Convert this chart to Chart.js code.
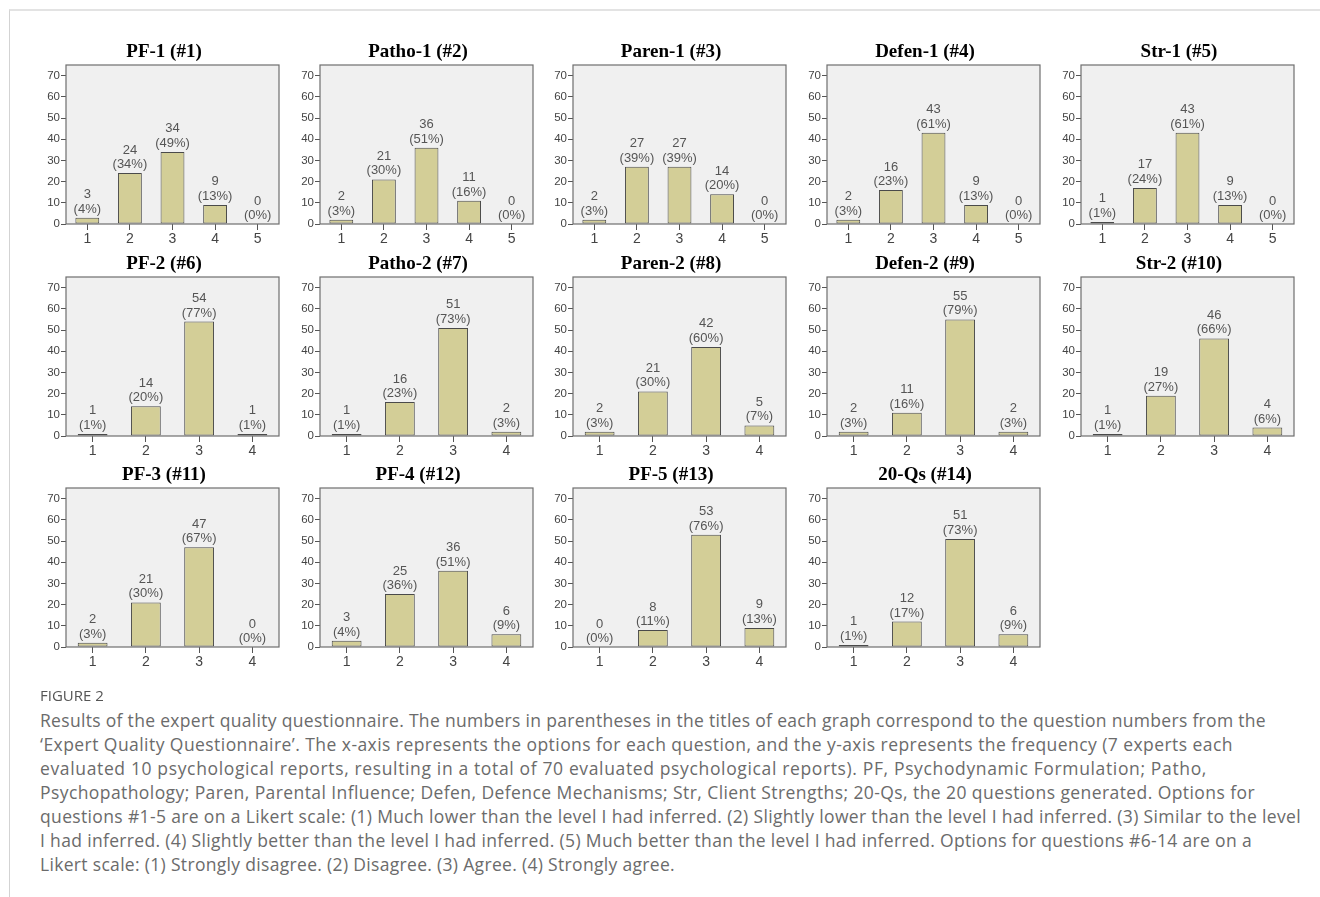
<!DOCTYPE html>
<html>
<head>
<meta charset="utf-8">
<script src="https://cdn.jsdelivr.net/npm/chart.js@4.4.1/dist/chart.umd.min.js"></script>
<style>
  body { margin: 0; background: #fff; width: 1320px; height: 897px; overflow: hidden; position: relative; font-family: "Open Sans", Lato, sans-serif; }
  #frame { position: absolute; left: 9px; top: 9px; right: 0; bottom: 0; border-top: 2px solid #e3e3e3; border-left: 1px solid #d3d3d3; }
  .panel { position: absolute; }
  #fig { position: absolute; left: 40px; top: 685px; font-size: 15px; color: #555; }
  #caption { position: absolute; left: 40px; top: 708px; font-size: 17.5px; line-height: 24px; color: #6b6b6b; white-space: nowrap; }
  #caption span { display: inline-block; }
</style>
</head>
<body>
<div id="frame"></div>
<div id="panels"></div>
<div id="fig">FIGURE 2</div>
<div id="caption"></div>
<script>
// question titles, in reading order
const titles = ['PF-1 (#1)', 'Patho-1 (#2)', 'Paren-1 (#3)', 'Defen-1 (#4)', 'Str-1 (#5)',
                'PF-2 (#6)', 'Patho-2 (#7)', 'Paren-2 (#8)', 'Defen-2 (#9)', 'Str-2 (#10)',
                'PF-3 (#11)', 'PF-4 (#12)', 'PF-5 (#13)', '20-Qs (#14)'];
const options5 = ['1', '2', '3', '4', '5'];
const options4 = ['1', '2', '3', '4'];
const yTicks = [0, 10, 20, 30, 40, 50, 60, 70];

// frequencies (n = 70)
const counts = [
  [3, 24, 34, 9, 0], [2, 21, 36, 11, 0], [2, 27, 27, 14, 0], [2, 16, 43, 9, 0], [1, 17, 43, 9, 0],
  [1, 14, 54, 1], [1, 16, 51, 2], [2, 21, 42, 5], [2, 11, 55, 2], [1, 19, 46, 4],
  [2, 21, 47, 0], [3, 25, 36, 6], [0, 8, 53, 9], [1, 12, 51, 6]
];
// percentages as printed above the bars
const percents = [
  [4, 34, 49, 13, 0], [3, 30, 51, 16, 0], [3, 39, 39, 20, 0], [3, 23, 61, 13, 0], [1, 24, 61, 13, 0],
  [1, 20, 77, 1], [1, 23, 73, 3], [3, 30, 60, 7], [3, 16, 79, 3], [1, 27, 66, 6],
  [3, 30, 67, 0], [4, 36, 51, 9], [0, 11, 76, 13], [1, 17, 73, 9]
];

// caption lines as wrapped in the figure, with where each one ends
const captionLines = [
  'Results of the expert quality questionnaire. The numbers in parentheses in the titles of each graph correspond to the question numbers from the',
  '‘Expert Quality Questionnaire’. The x-axis represents the options for each question, and the y-axis represents the frequency (7 experts each',
  'evaluated 10 psychological reports, resulting in a total of 70 evaluated psychological reports). PF, Psychodynamic Formulation; Patho,',
  'Psychopathology; Paren, Parental Influence; Defen, Defence Mechanisms; Str, Client Strengths; 20-Qs, the 20 questions generated. Options for',
  'questions #1-5 are on a Likert scale: (1) Much lower than the level I had inferred. (2) Slightly lower than the level I had inferred. (3) Similar to the level',
  'I had inferred. (4) Slightly better than the level I had inferred. (5) Much better than the level I had inferred. Options for questions #6-14 are on a',
  'Likert scale: (1) Strongly disagree. (2) Disagree. (3) Agree. (4) Strongly agree.'
];
const captionEnds = [1266, 1233, 1207, 1255, 1301, 1252, 675];

const cap = document.getElementById('caption');
captionLines.forEach((line, k) => {
  const span = document.createElement('span');
  span.textContent = line;
  cap.appendChild(span);
  cap.appendChild(document.createElement('br'));
  const w = span.getBoundingClientRect().width;
  span.style.letterSpacing = ((captionEnds[k] - 40 - w) / line.length) + 'px';
});

const sans = '"Liberation Sans", Arial, sans-serif';

// grey plot background, frame and the count/percent labels
const panelPlugin = {
  id: 'panel',
  beforeDraw(chart) {
    const { ctx, chartArea: a } = chart;
    ctx.save();
    ctx.fillStyle = '#f0f0f0';
    ctx.fillRect(a.left, a.top, a.right - a.left, a.bottom - a.top);
    ctx.restore();
  },
  afterDatasetsDraw(chart) {
    const { ctx, chartArea: a } = chart;
    const ds = chart.data.datasets[0];
    const meta = chart.getDatasetMeta(0);
    ctx.save();
    ctx.fillStyle = '#555';
    ctx.font = '13px ' + sans;
    ctx.textAlign = 'center';
    ctx.textBaseline = 'alphabetic';
    meta.data.forEach((bar, j) => {
      ctx.fillText(String(ds.data[j]), bar.x, bar.y - 19.5);
      ctx.fillText('(' + ds.pct[j] + '%)', bar.x, bar.y - 5);
    });
    ctx.strokeStyle = '#6e6e6e';
    ctx.lineWidth = 1.2;
    ctx.strokeRect(a.left, a.top, a.right - a.left, a.bottom - a.top);
    ctx.restore();
  }
};

const holder = document.getElementById('panels');
const boxTops = [65, 277, 488];

titles.forEach((title, i) => {
  const row = Math.floor(i / 5), col = i % 5;
  const plotLeft = 66 + col * 253.7;
  const canvas = document.createElement('canvas');
  canvas.className = 'panel';
  canvas.width = 268;
  canvas.height = 212;
  canvas.style.left = (plotLeft - 36) + 'px';
  canvas.style.top = (boxTops[row] - 27) + 'px';
  holder.appendChild(canvas);

  new Chart(canvas, {
    type: 'bar',
    data: {
      labels: i < 5 ? options5 : options4,
      datasets: [{
        data: counts[i],
        pct: percents[i],
        backgroundColor: '#d3ce97',
        borderColor: '#4a4a4a',
        borderWidth: 1,
        borderSkipped: false,
        barPercentage: 0.56,
        categoryPercentage: 1
      }]
    },
    options: {
      responsive: false,
      animation: false,
      layout: { padding: 0 },
      plugins: {
        legend: { display: false },
        tooltip: { enabled: false },
        title: {
          display: true,
          text: title,
          color: '#000',
          font: { family: '"Liberation Serif", "Times New Roman", serif', size: 19, weight: 'bold' },
          padding: { top: 3, bottom: 1.2 }
        }
      },
      scales: {
        x: {
          grid: { display: true, drawOnChartArea: false, offset: false, tickLength: 6, tickColor: '#555' },
          border: { display: false },
          ticks: { color: '#444', font: { family: sans, size: 14 }, padding: 1, maxRotation: 0 },
          afterFit: s => { s.height = 26; }
        },
        y: {
          min: 0,
          max: 75,
          grid: { display: true, drawOnChartArea: false, tickLength: 5, tickColor: '#555' },
          border: { display: false },
          ticks: { color: '#444', font: { family: sans, size: 11.5 }, padding: 1 },
          afterBuildTicks: axis => { axis.ticks = yTicks.map(v => ({ value: v })); },
          afterFit: s => { s.width = 36; }
        },
        pad: {
          position: 'right',
          display: true,
          grid: { display: false },
          border: { display: false },
          ticks: { display: false },
          afterFit: s => { s.width = 19; }
        }
      }
    },
    plugins: [panelPlugin]
  });
});
</script>
</body>
</html>
